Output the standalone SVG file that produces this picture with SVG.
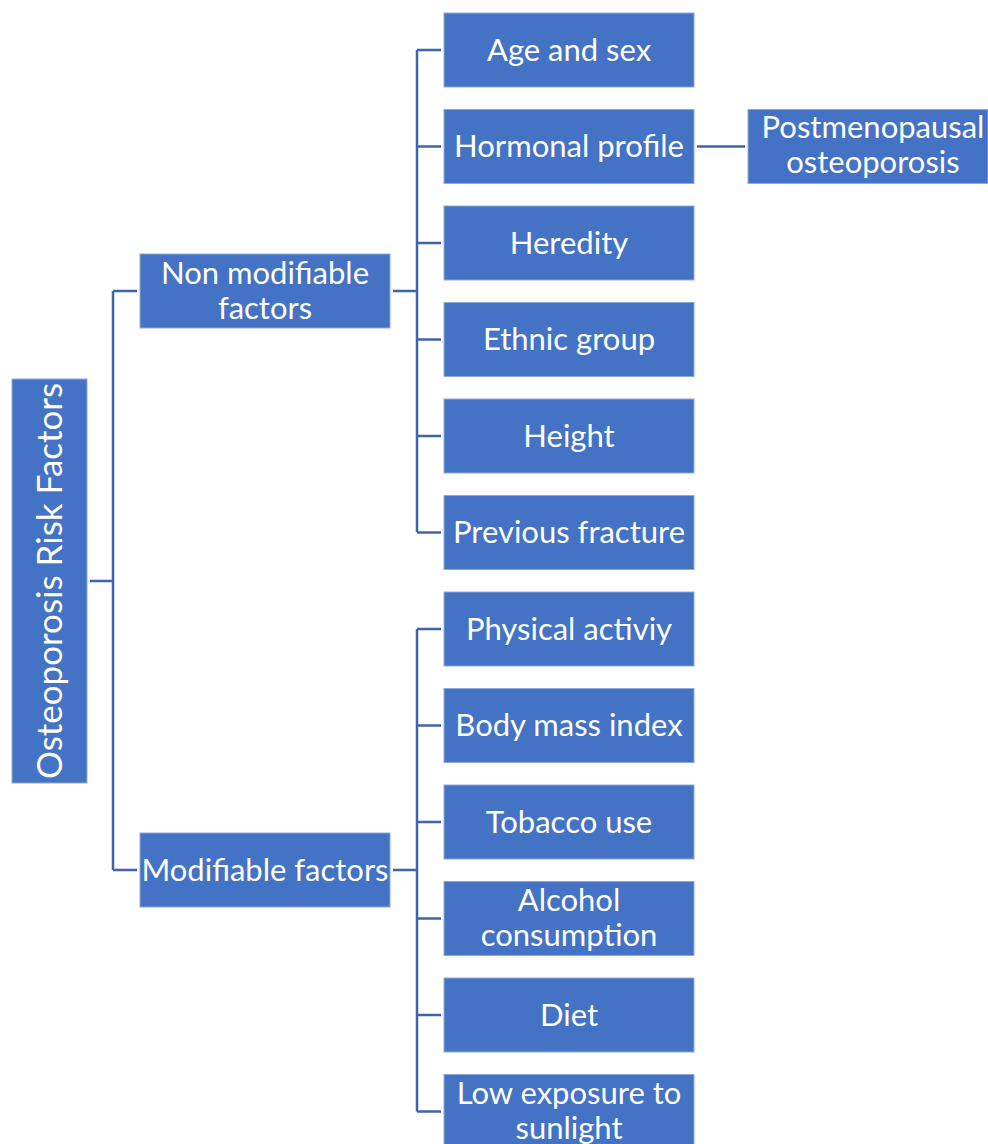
<svg xmlns="http://www.w3.org/2000/svg" width="988" height="1144" viewBox="0 0 988 1144">
<style>
.box{fill:#4472C4;stroke:#8EA9DB;stroke-width:1}
.t{font-family:Lato,"Open Sans",sans-serif;font-size:31px;fill:#fff;text-anchor:middle}
.ln{fill:none;stroke:#3F64AC;stroke-width:2.5}
</style>
<rect width="988" height="1144" fill="#fff"/>
<g id="connectors">
<path class="ln" d="M90 581H113M113 291V870M113 291H137M113 870H137"/>
<path class="ln" d="M393 291H417M417 50V532M417 50H441M417 146.5H441M417 243H441M417 339.5H441M417 436H441M417 532.5H441"/>
<path class="ln" d="M393 870H417M417 629V1111.5M417 629H441M417 725.5H441M417 822H441M417 918.5H441M417 1015H441M417 1111.5H441"/>
<path class="ln" d="M697 146.5H745"/>
</g>
<g id="root"><rect class="box" x="12" y="379" width="75" height="404"/><text class="t" style="font-size:35px" transform="translate(61.5 581) rotate(-90)">Osteoporosis Risk Factors</text></g>
<g id="nonmod"><rect class="box" x="140" y="254" width="250" height="74"/><text class="t" x="265" y="284">Non modifiable</text><text class="t" x="265" y="319">factors</text></g>
<g id="mod"><rect class="box" x="140" y="833" width="250" height="74"/><text class="t" x="265" y="881">Modifiable factors</text></g>
<g id="age"><rect class="box" x="444" y="13" width="250" height="74"/><text class="t" x="569" y="61">Age and sex</text></g>
<g id="hormonal"><rect class="box" x="444" y="109.5" width="250" height="74"/><text class="t" x="569" y="157">Hormonal profile</text></g>
<g id="postmeno"><rect class="box" x="748" y="109.5" width="240" height="74"/><text class="t" x="873" y="138">Postmenopausal</text><text class="t" x="873" y="173">osteoporosis</text></g>
<g id="heredity"><rect class="box" x="444" y="206" width="250" height="74"/><text class="t" x="569" y="254">Heredity</text></g>
<g id="ethnic"><rect class="box" x="444" y="302.5" width="250" height="74"/><text class="t" x="569" y="350">Ethnic group</text></g>
<g id="height"><rect class="box" x="444" y="399" width="250" height="74"/><text class="t" x="569" y="447">Height</text></g>
<g id="fracture"><rect class="box" x="444" y="495.5" width="250" height="74"/><text class="t" x="569" y="543">Previous fracture</text></g>
<g id="physical"><rect class="box" x="444" y="592" width="250" height="74"/><text class="t" x="569" y="640">Physical activiy</text></g>
<g id="bmi"><rect class="box" x="444" y="688.5" width="250" height="74"/><text class="t" x="569" y="736">Body mass index</text></g>
<g id="tobacco"><rect class="box" x="444" y="785" width="250" height="74"/><text class="t" x="569" y="833">Tobacco use</text></g>
<g id="alcohol"><rect class="box" x="444" y="881.5" width="250" height="74"/><text class="t" x="569" y="911">Alcohol</text><text class="t" x="569" y="946">consumption</text></g>
<g id="diet"><rect class="box" x="444" y="978" width="250" height="74"/><text class="t" x="569" y="1026">Diet</text></g>
<g id="sunlight"><rect class="box" x="444" y="1074.5" width="250" height="74"/><text class="t" x="569" y="1104">Low exposure to</text><text class="t" x="569" y="1139">sunlight</text></g>
</svg>
